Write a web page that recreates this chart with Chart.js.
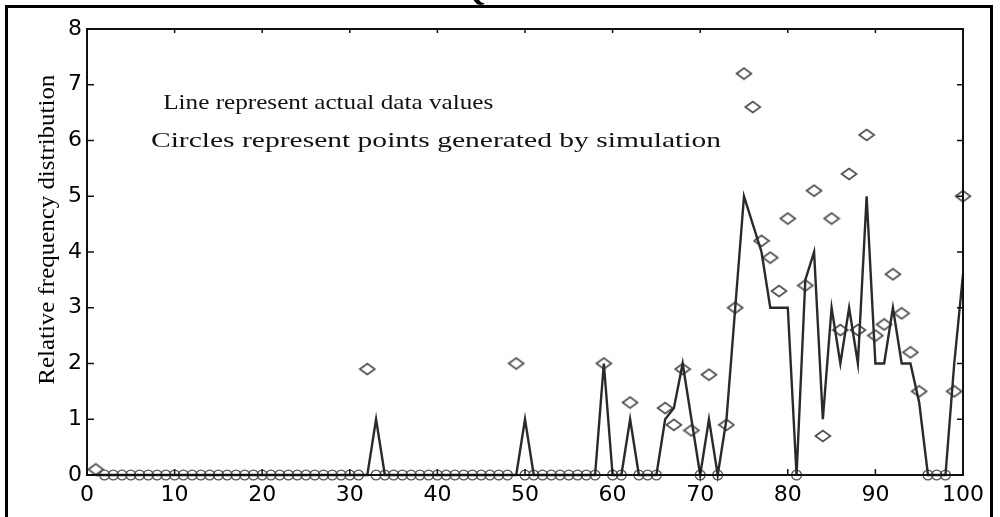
<!DOCTYPE html>
<html>
<head>
<meta charset="utf-8">
<script src="https://cdn.jsdelivr.net/npm/chart.js@4/dist/chart.umd.min.js"></script>
<style>
  html, body { margin: 0; padding: 0; background: #fff; }
  #wrap { position: relative; width: 1000px; height: 517px; overflow: hidden; }
  #frame { position: absolute; left: 5px; top: 5px; width: 982px; height: 600px; border: 3px solid #000; }
  #cut { position: absolute; left: 462px; top: -27px; font: bold 30px "Liberation Serif", serif; color: #000; }
  canvas { position: absolute; left: 0; top: 0; }
</style>
</head>
<body>
<div id="wrap">
  <div id="frame"></div>
  <div id="cut">Q</div>
  <canvas id="chart" width="1000" height="517"></canvas>
</div>
<script>
// x positions 1..100
const xValues = [
  1, 2, 3, 4, 5, 6, 7, 8, 9, 10, 11, 12, 13, 14, 15, 16, 17, 18, 19, 20,
  21, 22, 23, 24, 25, 26, 27, 28, 29, 30, 31, 32, 33, 34, 35, 36, 37, 38, 39, 40,
  41, 42, 43, 44, 45, 46, 47, 48, 49, 50, 51, 52, 53, 54, 55, 56, 57, 58, 59, 60,
  61, 62, 63, 64, 65, 66, 67, 68, 69, 70, 71, 72, 73, 74, 75, 76, 77, 78, 79, 80,
  81, 82, 83, 84, 85, 86, 87, 88, 89, 90, 91, 92, 93, 94, 95, 96, 97, 98, 99, 100
];

// line: actual data values
const actualValues = [
  0, 0, 0, 0, 0, 0, 0, 0, 0, 0, 0, 0, 0, 0, 0, 0, 0, 0, 0, 0,
  0, 0, 0, 0, 0, 0, 0, 0, 0, 0, 0, 0, 1, 0, 0, 0, 0, 0, 0, 0,
  0, 0, 0, 0, 0, 0, 0, 0, 0, 1, 0, 0, 0, 0, 0, 0, 0, 0, 2, 0,
  0, 1, 0, 0, 0, 1, 1.2, 2, 1, 0, 1, 0, 1, 3, 5, 4.5, 4, 3, 3, 3,
  0, 3.5, 4, 1, 3, 2, 3, 2, 5, 2, 2, 3, 2, 2, 1.3, 0, 0, 0, 2, 3.6
];

// circles: simulated points
const simulatedValues = [
  0.1, 0, 0, 0, 0, 0, 0, 0, 0, 0, 0, 0, 0, 0, 0, 0, 0, 0, 0, 0,
  0, 0, 0, 0, 0, 0, 0, 0, 0, 0, 0, 1.9, 0, 0, 0, 0, 0, 0, 0, 0,
  0, 0, 0, 0, 0, 0, 0, 0, 2.0, 0, 0, 0, 0, 0, 0, 0, 0, 0, 2.0, 0,
  0, 1.3, 0, 0, 0, 1.2, 0.9, 1.9, 0.8, 0, 1.8, 0, 0.9, 3.0, 7.2, 6.6, 4.2, 3.9, 3.3, 4.6,
  0, 3.4, 5.1, 0.7, 4.6, 2.6, 5.4, 2.6, 6.1, 2.5, 2.7, 3.6, 2.9, 2.2, 1.5, 0, 0, 0, 1.5, 5.0
];

const yTitle = 'Relative frequency distribution';
const notes = ['Line represent actual data values', 'Circles represent points generated by simulation'];

function makeDiamond(w, h) {
  const c = document.createElement('canvas');
  c.width = w + 3;
  c.height = h + 3;
  const g = c.getContext('2d');
  g.strokeStyle = '#4a4a4a';
  g.lineWidth = 1.6;
  g.beginPath();
  g.moveTo(1.5, h / 2 + 1.5);
  g.lineTo(w / 2 + 1.5, 1.5);
  g.lineTo(w + 1.5, h / 2 + 1.5);
  g.lineTo(w / 2 + 1.5, h + 1.5);
  g.closePath();
  g.stroke();
  return c;
}
const diamond = makeDiamond(15, 11);

// draws text stretched to a given width
function stretchText(ctx, txt, px, py, w, rot) {
  const sx = w / ctx.measureText(txt).width;
  ctx.save();
  ctx.translate(px, py);
  ctx.rotate(rot);
  ctx.scale(sx, 1);
  ctx.fillText(txt, 0, 0);
  ctx.restore();
}

// box, inward ticks, axis title and the two notes
const boxPlugin = {
  id: 'box',
  afterDatasetsDraw(chart) {
    const { ctx, chartArea: a, scales: { x, y } } = chart;
    ctx.save();
    ctx.strokeStyle = '#111';
    ctx.lineWidth = 2;
    ctx.strokeRect(a.left, a.top, a.right - a.left, a.bottom - a.top);
    ctx.lineWidth = 1.5;
    ctx.beginPath();
    x.ticks.forEach(t => {
      const px = x.getPixelForValue(t.value);
      ctx.moveTo(px, a.bottom); ctx.lineTo(px, a.bottom - 6);
      ctx.moveTo(px, a.top); ctx.lineTo(px, a.top + 4);
    });
    y.ticks.forEach(t => {
      const py = y.getPixelForValue(t.value);
      ctx.moveTo(a.left, py); ctx.lineTo(a.left + 7, py);
      ctx.moveTo(a.right, py); ctx.lineTo(a.right - 6, py);
    });
    ctx.stroke();

    ctx.fillStyle = '#111';
    ctx.font = '22px "Liberation Serif", serif';
    ctx.textBaseline = 'middle';
    ctx.textAlign = 'left';
    const spots = [[8.7, 6.67, 330], [7.3, 5.98, 570]];
    notes.forEach((txt, i) => {
      const [vx, vy, w] = spots[i];
      stretchText(ctx, txt, x.getPixelForValue(vx), y.getPixelForValue(vy), w, 0);
    });

    ctx.fillStyle = '#000';
    ctx.font = '23px "Liberation Serif", serif';
    ctx.textAlign = 'center';
    stretchText(ctx, yTitle, 48, y.getPixelForValue(4.4), 310, -Math.PI / 2);
    ctx.restore();
  }
};

const tickFont = { family: 'DejaVu Sans', size: 22 };

new Chart(document.getElementById('chart'), {
  type: 'scatter',
  data: {
    datasets: [
      {
        label: 'Actual',
        data: xValues.map((v, i) => ({ x: v, y: actualValues[i] })),
        showLine: true,
        borderColor: '#2a2a2a',
        borderWidth: 2.4,
        pointRadius: 0,
        tension: 0,
        clip: false
      },
      {
        label: 'Simulated',
        data: xValues.map((v, i) => ({ x: v, y: simulatedValues[i] })),
        showLine: false,
        pointStyle: c => (c.raw && c.raw.y === 0 ? 'circle' : diamond),
        pointRadius: c => (c.raw && c.raw.y === 0 ? 4.9 : 8),
        borderColor: '#555',
        borderWidth: 1.3,
        backgroundColor: 'rgba(0,0,0,0)',
        clip: false
      }
    ]
  },
  options: {
    responsive: false,
    animation: false,
    layout: { padding: { left: 0, top: 29, right: 37, bottom: 0 } },
    plugins: { legend: { display: false }, tooltip: { enabled: false } },
    scales: {
      x: {
        type: 'linear', min: 0, max: 100,
        ticks: { stepSize: 10, color: '#000', font: tickFont, padding: 7, maxRotation: 0, autoSkip: false },
        grid: { display: false, drawTicks: false },
        border: { display: false },
        afterFit: s => { s.height = 42; }
      },
      y: {
        min: 0, max: 8,
        ticks: { stepSize: 1, color: '#000', font: tickFont, padding: 5 },
        grid: { display: false, drawTicks: false },
        border: { display: false },
        afterFit: s => { s.width = 87; }
      }
    }
  },
  plugins: [boxPlugin]
});
</script>
</body>
</html>
